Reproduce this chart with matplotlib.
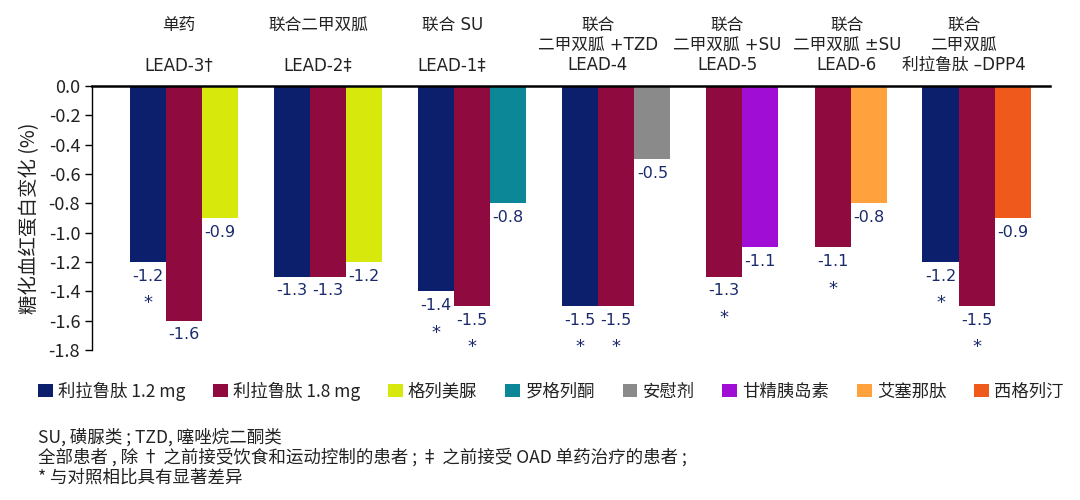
import numpy as np
import matplotlib
matplotlib.use("Agg")
import matplotlib.pyplot as plt
from matplotlib.patches import Patch
import matplotlib.transforms as mtransforms

plt.rcParams['font.family'] = ['Noto Sans CJK SC', 'DejaVu Sans']

# header lines per group (3 rows)
headers = [
    ["单药", "", "LEAD-3†"],
    ["联合二甲双胍", "", "LEAD-2‡"],
    ["联合 SU", "", "LEAD-1‡"],
    ["联合", "二甲双胍 +TZD", "LEAD-4"],
    ["联合", "二甲双胍 +SU", "LEAD-5"],
    ["联合", "二甲双胍 ±SU", "LEAD-6"],
    ["联合", "二甲双胍", "利拉鲁肽 –DPP4"],
]
lira12 = [-1.2, -1.3, -1.4, -1.5, None, None, -1.2]
lira18 = [-1.6, -1.3, -1.5, -1.5, -1.3, -1.1, -1.5]
comp_vals = [-0.9, -1.2, -0.8, -0.5, -1.1, -0.8, -0.9]
comp_names = ["格列美脲", "格列美脲", "罗格列酮", "安慰剂", "甘精胰岛素", "艾塞那肽", "西格列汀"]
star12 = [True, False, True, True, False, False, True]
star18 = [False, False, True, True, True, True, True]

legend_names = ["利拉鲁肽 1.2 mg", "利拉鲁肽 1.8 mg", "格列美脲", "罗格列酮",
                "安慰剂", "甘精胰岛素", "艾塞那肽", "西格列汀"]
colors = {
    "利拉鲁肽 1.2 mg": "#0c1f6c",
    "利拉鲁肽 1.8 mg": "#8f0a3f",
    "格列美脲": "#d6e80c",
    "罗格列酮": "#0b8797",
    "安慰剂": "#8a8a8a",
    "甘精胰岛素": "#a00ed6",
    "艾塞那肽": "#ffa23e",
    "西格列汀": "#ef5a1c",
}
yticks = np.arange(0, -1.81, -0.2)

group_x = [0, 1, 2, 3, 3.87, 4.63, 5.5]
header_x = [-0.04, 0.93, 1.86, 2.87, 3.77, 4.6, 5.41]
w = 0.25
label_col = "#1a2a6c"
text_col = "#222222"

fig = plt.figure(figsize=(10.8, 5.0), dpi=100)
ax = fig.add_axes([0.0852, 0.30, 0.887, 0.528])

for i, gx in enumerate(group_x):
    series = []
    if lira12[i] is not None:
        series.append((lira12[i], "利拉鲁肽 1.2 mg", star12[i]))
    series.append((lira18[i], "利拉鲁肽 1.8 mg", star18[i]))
    series.append((comp_vals[i], comp_names[i], False))
    n = len(series)
    offsets = (np.arange(n) - (n - 1) / 2) * w
    for (v, name, star), off in zip(series, offsets):
        x = gx + off
        ax.bar(x, v, width=w, color=colors[name], edgecolor='none')
        ax.text(x, v - 0.045, f"{v:.1f}", ha='center', va='top',
                fontsize=11.5, color=label_col, family=['DejaVu Sans'])
        if star:
            ax.text(x, v - 0.22, "*", ha='center', va='top',
                    fontsize=13, color=label_col, family=['DejaVu Sans'])

ax.set_xlim(-0.64, 6.01)
ax.set_ylim(-1.8, 0)
ax.set_yticks(yticks)
ax.set_yticklabels([f"{t:.1f}" if abs(t) > 1e-9 else "0.0" for t in yticks],
                   fontsize=13, color=text_col)
ax.set_xticks([])
for s in ["right", "bottom"]:
    ax.spines[s].set_visible(False)
ax.spines["top"].set_linewidth(1.8)
ax.spines["left"].set_linewidth(1.0)
ax.tick_params(axis='y', direction='out', length=5, width=1)
ax.set_ylabel("糖化血红蛋白变化 (%)", fontsize=14, color=text_col, labelpad=6)

# group headers
trans = mtransforms.blended_transform_factory(ax.transData, fig.transFigure)
row_y = [1 - 25 / 500, 1 - 45 / 500, 1 - 65 / 500]
for hx, lines in zip(header_x, headers):
    for ly, line in zip(row_y, lines):
        if line:
            ax.text(hx, ly, line, transform=trans, ha='center', va='center',
                    fontsize=12, color=text_col, clip_on=False,
                    family=['DejaVu Sans', 'Noto Sans CJK SC'])

handles = [Patch(facecolor=colors[n], edgecolor='none') for n in legend_names]
fig.legend(handles, legend_names, loc='center', bbox_to_anchor=(0.51, 1 - 391 / 500),
           ncol=8, frameon=False, fontsize=12.5, handlelength=0.85, handleheight=0.85,
           handletextpad=0.3, columnspacing=1.6, labelcolor=text_col)

notes = ["SU, 磺脲类 ; TZD, 噻唑烷二酮类",
         "全部患者 , 除 † 之前接受饮食和运动控制的患者 ; ‡ 之前接受 OAD 单药治疗的患者 ;",
         "* 与对照相比具有显著差异"]
for k, line in enumerate(notes):
    fig.text(38 / 1080, 1 - (437 + 20.5 * k) / 500, line, ha='left', va='center',
             fontsize=12.6, color=text_col)

fig.savefig("out.png", dpi=100)
